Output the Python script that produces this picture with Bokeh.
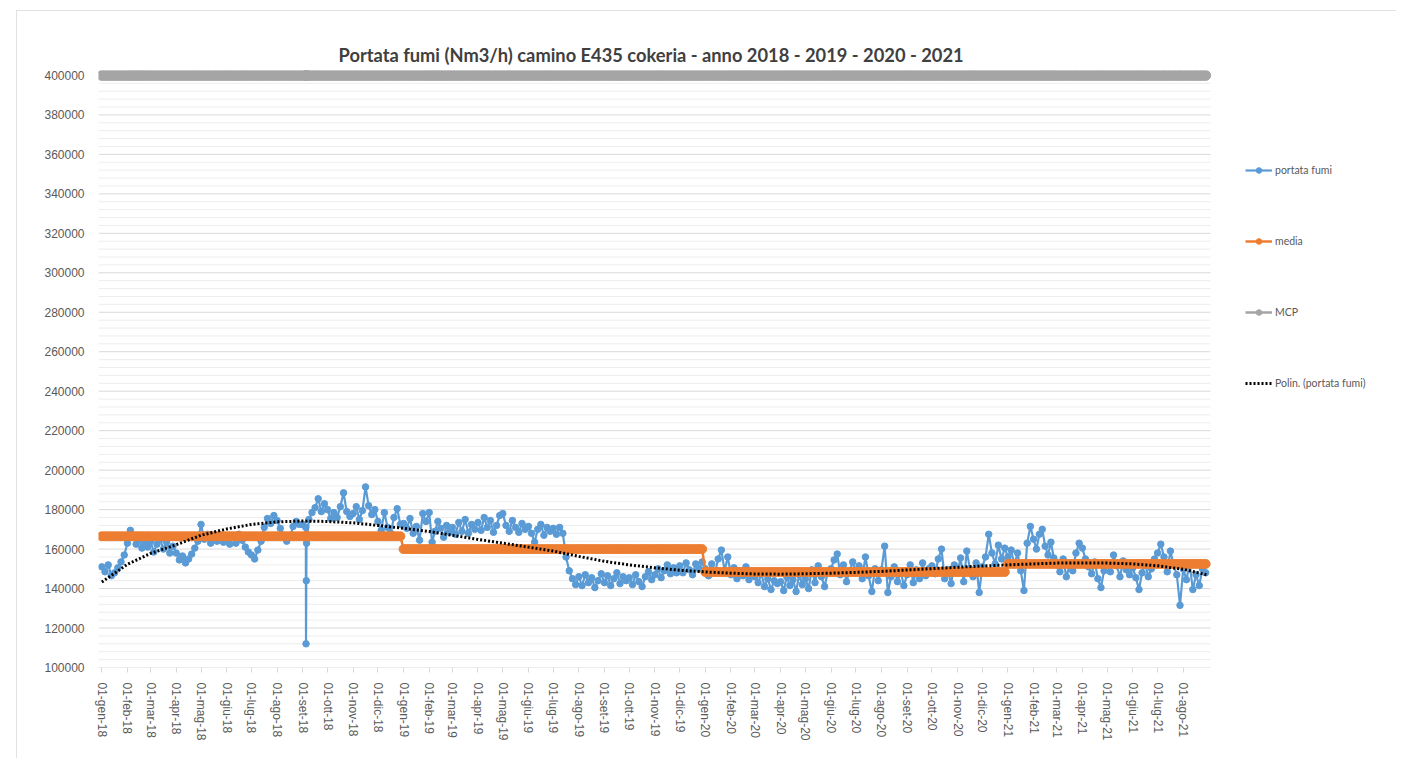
import math
import pandas as pd
from bokeh.plotting import figure
from bokeh.models import (FixedTicker, NumeralTickFormatter, Legend, LegendItem,
                          Range1d, ColumnDataSource)
from bokeh.embed import file_html
from bokeh.resources import INLINE

TITOLO = "Portata fumi (Nm3/h) camino E435 cokeria - anno 2018 - 2019 - 2020 - 2021"

mesi_it = ["gen", "feb", "mar", "apr", "mag", "giu", "lug", "ago", "set", "ott", "nov", "dic"]

# portata fumi: 8 letture per mese (Nm3/h)
portata_2018 = [
    151000, 148500, 152000, 146500, 148000, 150500, 153500, 157000,
    163000, 169500, 167000, 162500, 165500, 160500, 163500, 161000,
    164000, 158500, 162500, 165000, 160000, 163500, 158000, 161500,
    158000, 154500, 156500, 153000, 155000, 157500, 160500, 164000,
    172500, 165000, 167500, 163000, 166500, 164000, 167000, 163500,
    165500, 162500, 166000, 163000, 167500, 164500, 161000, 158500,
    157000, 155000, 159500, 164000, 171000, 175500, 173000, 177000,
    174500, 170500, 167000, 164000, 166000, 171500, 174000, 172500,
    172500, 171000, 175000, 178500, 181000, 185500, 179000, 183000,
    180000, 175500, 178500, 176000, 181500, 188500, 179000, 176500,
    178000, 181500, 175000, 179500, 191500, 182000, 177500, 180000,
    174000, 169500, 178500, 171000, 168000, 176000, 180500, 172500,
]
portata_2019 = [
    173000, 170500, 175500, 168000, 171500, 164500, 178000, 174000,
    178500, 163500, 169000, 174000, 170500, 166000, 172000, 168500,
    171000, 167500, 173500, 169000, 175000, 168000, 172500, 170000,
    173500, 169500, 176000, 171000, 174500, 168500, 172000, 177000,
    178000, 172000, 169000, 174500, 171000, 168500, 173000, 170000,
    171500, 168000, 163500, 170000, 172500, 167000, 171000, 169000,
    170500, 167500, 171000, 168000, 156000, 149000, 145000, 142000,
    146000, 141500, 147000, 143000, 145500, 140500, 144000, 147500,
    143000, 146500, 141500, 145000, 148000, 142500, 146000, 144000,
    145500, 142000, 147000, 143500, 141000, 146000, 148500, 144500,
    147000, 150000, 145500, 149000, 152000, 147500, 150500, 148000,
    151500, 148000, 153000, 149500, 147000, 152500, 150000, 153500,
]
portata_2020 = [
    150000, 146500, 152500, 148000, 155000, 159500, 149000, 156000,
    147000, 150500, 145000, 149000, 146500, 151000, 144500, 148000,
    146000, 143000, 147500, 141000, 145000, 139500, 144000, 142500,
    143500, 139000, 146000, 141500, 144500, 138500, 147000, 142000,
    145000, 140000, 149500, 143000, 151500, 146000, 141000, 148500,
    150000, 154500, 157500, 147000, 152000, 143500, 149000, 153500,
    148000, 151500, 145000, 156000, 146500, 138500, 150000, 144000,
    149500, 161500, 138000, 146000, 151000, 143500, 148500, 141500,
    147000, 152000, 143000, 149500, 145000, 153000, 146500, 150000,
    151500, 147500, 155000, 160000, 145000, 149500, 142500, 152000,
    148000, 155500, 143500, 159000, 150000, 146000, 153000, 138000,
    151000, 156000, 167500, 158000, 152500, 162000, 155000, 160500,
]
portata_2021 = [
    156000, 159500, 152000, 158000, 149000, 139000, 163000, 171500,
    165000, 160000, 167500, 170000, 161500, 157000, 163500, 155500,
    152000, 148500, 155000, 146000, 151500, 149000, 158000, 163000,
    160500, 155000, 151000, 147500, 153500, 145000, 140500, 149000,
    152000, 148500, 157000, 151500, 146000, 154000, 149500, 147000,
    150500, 145500, 139500, 148000, 152500, 146000, 150000, 155000,
    158000, 162500, 156000, 148500, 159000, 152000, 147000, 131500,
    150000, 144500, 152500, 139500, 147000, 141500, 150000, 148000,
]
# caduta del 5 settembre 2018
picco_date = ["2018-09-05 00:00", "2018-09-05 08:00", "2018-09-05 16:00"]
picco_valori = [112000, 144000, 163000]

# media annua
media_anni = {2018: 166500, 2019: 160000, 2020: 148400, 2021: 152500}
# limite MCP
MCP = 400000

# linea di tendenza polinomiale (valori al primo di ogni mese + fine serie)
trend_valori = [
    143300, 152300, 157800, 162200, 167000, 170200, 172500, 173800, 174200, 174000, 173300, 172000,
    170500, 168900, 167000, 164900, 163000, 161000, 159000, 156300, 153800, 152000, 150500, 149300,
    148400, 147800, 147400, 147300, 147500, 147800, 148200, 148700, 149400, 150100, 150800, 151400,
    152000, 152500, 152900, 153000, 152900, 152500, 151500, 149800, 146800,
]
trend_fine = "2021-08-31"

# asse Y
y_major = list(range(100000, 400001, 20000))
y_minor = [v for v in range(100000, 400001, 4000) if v not in y_major]

# ---------------------------------------------------------------
mesi = pd.date_range("2018-01-01", "2021-08-01", freq="MS")
valori = portata_2018 + portata_2019 + portata_2020 + portata_2021
date, vals = [], []
for k, m in enumerate(mesi):
    dur = m.days_in_month
    for i in range(8):
        date.append(m + pd.Timedelta(days=i * dur / 8))
        vals.append(valori[k * 8 + i])
for d, v in zip(picco_date, picco_valori):
    date.append(pd.Timestamp(d))
    vals.append(v)
df = pd.DataFrame({"data": date, "portata": vals}).sort_values("data").reset_index(drop=True)
df["media"] = df["data"].dt.year.map(media_anni)
df["mcp"] = MCP
src = ColumnDataSource(df)

trend_date = list(mesi) + [pd.Timestamp(trend_fine)]
src_trend = ColumnDataSource(dict(data=trend_date, trend=trend_valori))

BLU = "#5B9BD5"
ARANCIO = "#ED7D31"
GRIGIO = "#A5A5A5"
TESTO = "#595959"

# geometria: figura spostata di 16/10 px, bordo grigio attorno all'area grafico
OFF_X, OFF_Y = 16, 10
W, H = 1380, 748
B_LEFT, B_RIGHT, B_TOP, B_BOTTOM = 98 - OFF_X, 6, 70 - OFF_Y, 91
x_inizio = pd.Timestamp("2017-12-28")
x_fine_dati = pd.Timestamp("2021-09-03")
frame_w = W - B_LEFT - B_RIGHT
x_fine = x_inizio + (x_fine_dati - x_inizio) * (frame_w / 1112)

p = figure(width=W, height=H, x_axis_type="datetime",
           x_range=Range1d(x_inizio, x_fine),
           y_range=Range1d(100000, 402500),
           output_backend="svg", toolbar_location=None,
           min_border_left=B_LEFT, min_border_right=B_RIGHT,
           min_border_top=B_TOP, min_border_bottom=B_BOTTOM)
p.styles = {"margin-left": f"{OFF_X}px", "margin-top": f"{OFF_Y}px",
            "outline": "1px solid #D9D9D9", "outline-offset": "-1px"}

p.title.text = TITOLO
p.title.align = "left"
p.title.offset = 240
p.title.text_font = "Lato"
p.title.text_font_size = "18.3px"
p.title.text_font_style = "bold"
p.title.text_color = "#404040"

# griglia orizzontale limitata alla zona dati
p.segment(x0=[x_inizio] * len(y_minor), x1=[x_fine_dati] * len(y_minor), y0=y_minor, y1=y_minor,
          line_color="#EDEDED", line_width=1)
p.segment(x0=[x_inizio] * len(y_major), x1=[x_fine_dati] * len(y_major), y0=y_major, y1=y_major,
          line_color="#D9D9D9", line_width=1)

r1l = p.line("data", "portata", source=src, line_color=BLU, line_width=2.2)
r1s = p.scatter("data", "portata", source=src, size=6.5, fill_color=BLU, line_color=BLU)
r2l = p.line("data", "media", source=src, line_color=ARANCIO, line_width=2.5)
r2s = p.scatter("data", "media", source=src, size=9, fill_color=ARANCIO, line_color=ARANCIO)
r3l = p.line("data", "mcp", source=src, line_color=GRIGIO, line_width=2.5)
r3s = p.scatter("data", "mcp", source=src, size=10, fill_color=GRIGIO, line_color=GRIGIO)
r4 = p.line("data", "trend", source=src_trend, line_color="black", line_width=3, line_dash="2 2")

# assi
ticks = [m.value / 1e6 for m in mesi]
p.xaxis.ticker = FixedTicker(ticks=ticks)
p.xaxis.major_label_overrides = {t: f"01-{mesi_it[m.month - 1]}-{m.year % 100:02d}"
                                 for t, m in zip(ticks, mesi)}
p.xaxis.major_label_orientation = -math.pi / 2
p.xaxis.major_label_text_font = "Liberation Sans"
p.xaxis.major_label_text_font_size = "12px"
p.xaxis.major_label_text_color = TESTO
p.xaxis.axis_line_color = None
p.xaxis.major_tick_line_color = "#D9D9D9"
p.xaxis.major_tick_in = 0
p.xaxis.major_tick_out = 5
p.xaxis.minor_tick_line_color = None
p.xaxis.major_label_standoff = 10

p.yaxis.ticker = FixedTicker(ticks=y_major)
p.yaxis.formatter = NumeralTickFormatter(format="0")
p.yaxis.major_label_text_font = "Liberation Sans"
p.yaxis.major_label_text_font_size = "12px"
p.yaxis.major_label_text_color = TESTO
p.yaxis.axis_line_color = None
p.yaxis.major_tick_line_color = None
p.yaxis.minor_tick_line_color = None
p.yaxis.major_label_standoff = 8

p.xgrid.grid_line_color = None
p.ygrid.grid_line_color = None
p.outline_line_color = None

legend = Legend(items=[
    LegendItem(label="portata fumi", renderers=[r1l, r1s]),
    LegendItem(label="media", renderers=[r2l, r2s]),
    LegendItem(label="MCP", renderers=[r3l, r3s]),
    LegendItem(label="Polin. (portata fumi)", renderers=[r4]),
], location=(1147, 277))
legend.label_text_font = "Lato"
legend.label_text_font_size = "10.5px"
legend.label_text_color = TESTO
legend.glyph_width = 27
legend.glyph_height = 14
legend.label_height = 14
legend.label_standoff = 3
legend.spacing = 57
legend.padding = 0
legend.margin = 0
legend.border_line_color = None
legend.background_fill_alpha = 0
p.add_layout(legend, "center")

open("out.html", "w").write(file_html(p, INLINE))
